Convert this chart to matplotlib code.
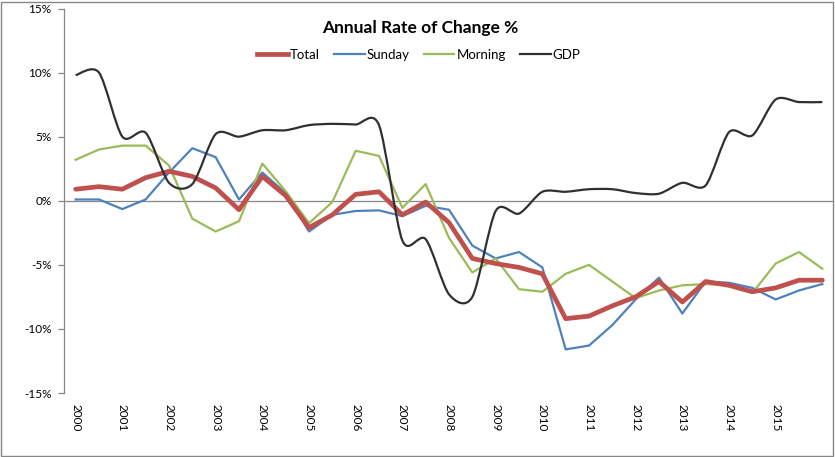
import numpy as np
import matplotlib
matplotlib.use("Agg")
import matplotlib.pyplot as plt
from matplotlib.path import Path
from matplotlib.patches import PathPatch, Rectangle
from matplotlib.lines import Line2D

# half-year points, 2000 .. 2016
years = [str(y) for y in range(2000, 2016)]
total = [0.9, 1.1, 0.9, 1.8, 2.3, 1.9, 1.0, -0.7, 1.9, 0.4, -2.1, -1.1, 0.5, 0.7, -1.1, -0.1,
         -1.7, -4.5, -4.9, -5.2, -5.7, -9.2, -9.0, -8.2, -7.5, -6.3, -7.9, -6.3, -6.6, -7.1, -6.8, -6.2, -6.2]
sunday = [0.1, 0.1, -0.65, 0.1, 2.2, 4.1, 3.4, 0.1, 2.2, 0.6, -2.4, -1.1, -0.8, -0.75, -1.2, -0.4,
          -0.7, -3.5, -4.5, -4.0, -5.2, -11.6, -11.3, -9.7, -7.7, -6.0, -8.8, -6.3, -6.4, -6.8, -7.7, -7.0, -6.5]
morning = [3.2, 4.0, 4.3, 4.3, 2.75, -1.4, -2.4, -1.6, 2.9, 0.75, -1.75, -0.1, 3.9, 3.5, -0.55, 1.3,
           -2.9, -5.6, -4.5, -6.9, -7.1, -5.7, -5.0, -6.3, -7.6, -7.0, -6.6, -6.5, -6.6, -7.2, -4.9, -4.0, -5.3]
gdp = [9.8, 10.0, 5.0, 5.3, 1.4, 1.3, 5.2, 5.0, 5.5, 5.5, 5.9, 6.0, 5.95, 5.9, -3.1, -3.0,
       -7.3, -7.5, -0.8, -1.0, 0.7, 0.7, 0.9, 0.9, 0.6, 0.55, 1.4, 1.2, 5.35, 5.1, 7.9, 7.7, 7.7]
yticks = [-15, -10, -5, 0, 5, 10, 15]
ytick_labels = ["-15%", "-10%", "-5%", "0%", "5%", "10%", "15%"]

C_TOTAL = "#C0504D"
C_SUNDAY = "#4F81BD"
C_MORNING = "#9BBB59"
C_GDP = "#303030"
GREY = "#868686"

plt.rcParams['font.family'] = ['Lato', 'DejaVu Sans']


def smooth_path(xs, ys, k=0.14):
    # excel style smoothed line: bezier through every point
    pts = np.column_stack([xs, ys])
    n = len(pts)
    verts = [pts[0]]
    codes = [Path.MOVETO]
    for i in range(n - 1):
        p0 = pts[max(i - 1, 0)]
        p1 = pts[i]
        p2 = pts[i + 1]
        p3 = pts[min(i + 2, n - 1)]
        verts += [p1 + (p2 - p0) * k, p2 - (p3 - p1) * k, p2]
        codes += [Path.CURVE4] * 3
    return Path(verts, codes)


fig = plt.figure(figsize=(8.35, 4.57), dpi=100)
ax = fig.add_axes([64/835, 64/457, 770/835, 384.5/457])

x = np.arange(len(total))
ax.plot(x, sunday, color=C_SUNDAY, lw=1.6, zorder=3)
ax.plot(x, morning, color=C_MORNING, lw=1.6, zorder=3)
ax.plot(x, total, color=C_TOTAL, lw=3.4, zorder=4, solid_capstyle='round')
ax.add_patch(PathPatch(smooth_path(x, gdp), fill=False, edgecolor=C_GDP, lw=1.6, zorder=5))
ax.axhline(0, color=GREY, lw=0.9, zorder=2)

ax.set_xlim(-0.5, len(total) - 0.5)
ax.set_ylim(-15, 15)
ax.set_yticks(yticks)
ax.set_yticklabels(ytick_labels)
ax.set_xticks(np.arange(0, 2 * len(years), 2))
ax.set_xticklabels(years, rotation=270, va='top', ha='center')
ax.tick_params(axis='x', length=0, pad=8, labelsize=8.5)
ax.tick_params(axis='y', length=4, width=0.9, color=GREY, pad=5, labelsize=8.5)
for s in ['top', 'right', 'bottom']:
    ax.spines[s].set_visible(False)
ax.spines['left'].set_color(GREY)
ax.spines['left'].set_linewidth(0.9)

fig.text(420/835, 1 - 28/457, "Annual Rate of Change %", ha='center', va='center',
         fontsize=12.5, fontweight='bold')

handles = [Line2D([], [], color=C_TOTAL, lw=3.4),
           Line2D([], [], color=C_SUNDAY, lw=1.6),
           Line2D([], [], color=C_MORNING, lw=1.6),
           Line2D([], [], color=C_GDP, lw=1.6)]
fig.legend(handles, ["Total", "Sunday", "Morning", "GDP"], loc='center',
           bbox_to_anchor=(419/835, 1 - 55/457), ncol=4, frameon=False,
           fontsize=9.5, handlelength=2.3, handletextpad=0.15, columnspacing=1.1)

fig.add_artist(Rectangle((0.5/835, 1.5/457), 832.5/835, 454/457, transform=fig.transFigure,
                         fill=False, edgecolor=GREY, lw=1))

fig.savefig("out.png", dpi=100)
